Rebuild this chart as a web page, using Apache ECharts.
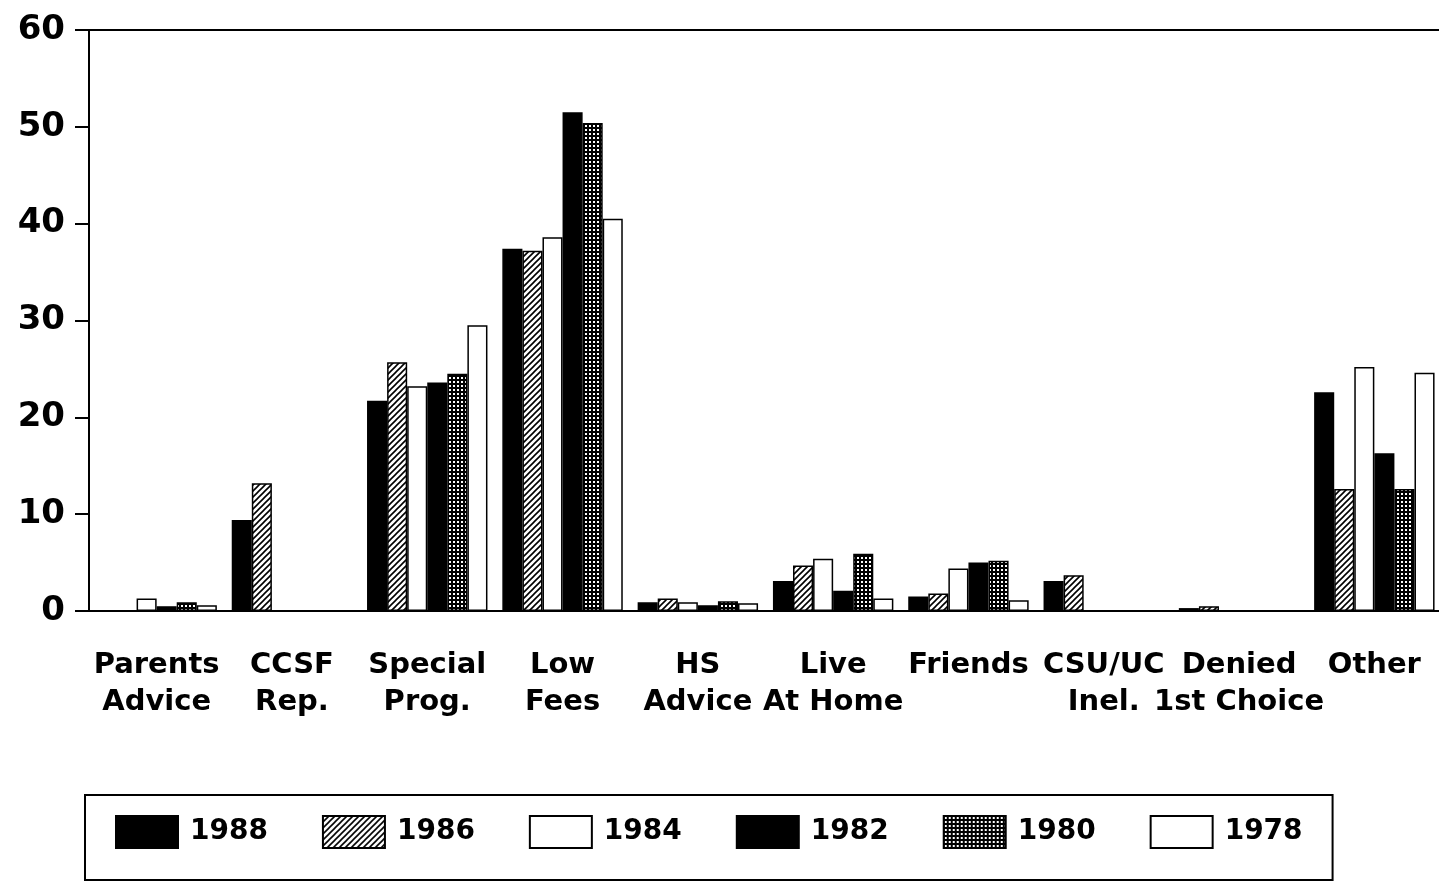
<!DOCTYPE html>
<html>
<head>
<meta charset="utf-8">
<script src="https://cdn.jsdelivr.net/npm/echarts@6/dist/echarts.min.js"></script>
<style>
  html, body { margin: 0; padding: 0; background: #fff; }
  #chart { width: 1439px; height: 884px; }
</style>
</head>
<body>
<div id="chart"></div>
<script>
// categories and values
const categories = ['Parents\nAdvice', 'CCSF\nRep.', 'Special\nProg.', 'Low\nFees', 'HS\nAdvice',
  'Live\nAt Home', 'Friends', 'CSU/UC\nInel.', 'Denied\n1st Choice', 'Other'];
const years = ['1988', '1986', '1984', '1982', '1980', '1978'];
const v1988 = [0, 9.4, 21.7, 37.4, 0.9, 3.1, 1.5, 3.1, 0.3, 22.6];
const v1986 = [0, 13.2, 25.7, 37.2, 1.3, 4.7, 1.8, 3.7, 0.5, 12.6];
const v1984 = [1.3, 0, 23.2, 38.6, 0.9, 5.4, 4.4, 0, 0, 25.2];
const v1982 = [0.5, 0, 23.6, 51.5, 0.6, 2.1, 5.0, 0, 0, 16.3];
const v1980 = [0.9, 0, 24.5, 50.4, 1.0, 5.9, 5.2, 0, 0, 12.6];
const v1978 = [0.6, 0, 29.5, 40.5, 0.8, 1.3, 1.1, 0, 0, 24.6];
const yTicks = [0, 10, 20, 30, 40, 50, 60];

const font = 'DejaVu Sans';

// fill patterns
const hatch = (() => {
  const c = document.createElement('canvas');
  c.width = 6; c.height = 6;
  const g = c.getContext('2d');
  g.fillStyle = '#fff'; g.fillRect(0, 0, 6, 6);
  g.strokeStyle = '#000'; g.lineWidth = 1.6;
  g.beginPath();
  g.moveTo(-1, 7); g.lineTo(7, -1);
  g.moveTo(-4, 4); g.lineTo(4, -4);
  g.moveTo(2, 10); g.lineTo(10, 2);
  g.stroke();
  return c;
})();
const dots = (() => {
  const c = document.createElement('canvas');
  c.width = 4; c.height = 4;
  const g = c.getContext('2d');
  g.fillStyle = '#000'; g.fillRect(0, 0, 4, 4);
  g.fillStyle = '#fff'; g.fillRect(1, 1, 2, 2);
  return c;
})();

const fills = {
  '1988': '#000',
  '1986': { image: hatch, repeat: 'repeat' },
  '1984': '#fff',
  '1982': '#000',
  '1980': { image: dots, repeat: 'repeat' },
  '1978': '#fff'
};
const values = { '1988': v1988, '1986': v1986, '1984': v1984, '1982': v1982, '1980': v1980, '1978': v1978 };

const chart = echarts.init(document.getElementById('chart'));
chart.setOption({
  animation: false,
  grid: { left: 89, right: -3, top: 30, bottom: 273, outerBoundsMode: 'none' },
  legend: {
    data: years,
    left: 85, top: 795,
    itemWidth: 62, itemHeight: 32, itemGap: 54,
    padding: [20, 30, 31, 30],
    borderColor: '#000', borderWidth: 2,
    icon: 'rect',
    textStyle: { fontFamily: font, fontWeight: 'bold', fontSize: 28, color: '#000', padding: [8, 0, 0, 7] }
  },
  xAxis: [{
    type: 'category',
    data: categories,
    axisLine: { lineStyle: { color: '#000', width: 2 } },
    axisTick: { alignWithLabel: true, length: 16, lineStyle: { color: '#000', width: 2 } },
    axisLabel: {
      interval: 0, margin: 36, color: '#000',
      fontFamily: font, fontWeight: 'bold', fontSize: 29, lineHeight: 37
    }
  }, {
    // top frame line
    type: 'category',
    position: 'top',
    data: categories,
    axisLine: { lineStyle: { color: '#000', width: 2 } },
    axisTick: { show: false },
    axisLabel: { show: false }
  }],
  yAxis: {
    type: 'value', min: 0, max: 60, interval: 10,
    splitLine: { show: false },
    axisLine: { show: true, lineStyle: { color: '#000', width: 2 } },
    axisTick: { show: true, length: 14, lineStyle: { color: '#000', width: 2 } },
    axisLabel: {
      margin: 24, color: '#000',
      fontFamily: font, fontWeight: 'bold', fontSize: 34,
      formatter: v => yTicks.includes(v) ? String(v) : ''
    }
  },
  series: years.map(y => ({
    name: y,
    type: 'bar',
    data: values[y],
    barGap: '0%',
    barCategoryGap: '11%',
    itemStyle: { color: fills[y], borderColor: '#000', borderWidth: 1.5 }
  }))
});
</script>
</body>
</html>
